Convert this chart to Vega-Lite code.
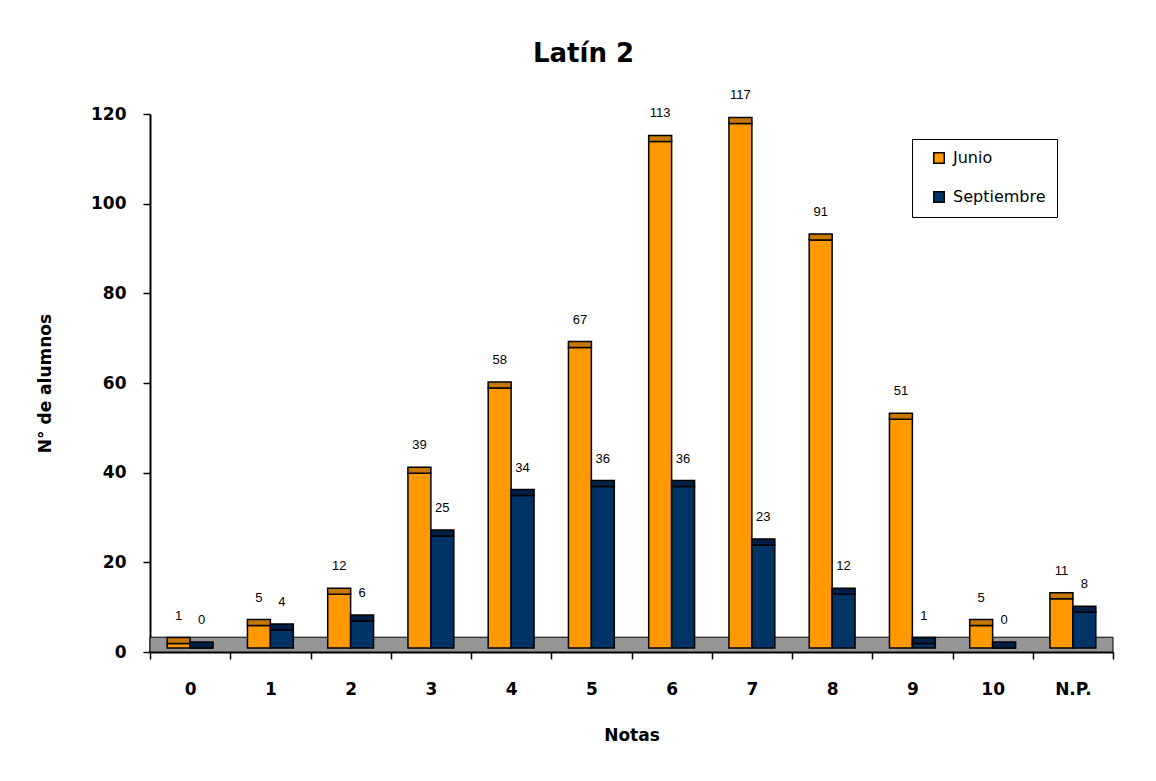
{
  "$schema": "https://vega.github.io/schema/vega-lite/v6.json",
  "width": 963,
  "height": 538,
  "autosize": {"type": "none"},
  "padding": {"left": 150, "top": 114, "right": 43, "bottom": 129},
  "background": "white",
  "title": {"text": "Latín 2", "font": "DejaVu Sans", "fontSize": 26, "fontWeight": "bold", "color": "black", "anchor": "middle", "frame": "group", "offset": 1, "dx": -48, "baseline": "alphabetic"},
  "data": {"values": [
    {"Nota": "0", "Serie": "Junio", "Alumnos": 1},
    {"Nota": "0", "Serie": "Septiembre", "Alumnos": 0},
    {"Nota": "1", "Serie": "Junio", "Alumnos": 5},
    {"Nota": "1", "Serie": "Septiembre", "Alumnos": 4},
    {"Nota": "2", "Serie": "Junio", "Alumnos": 12},
    {"Nota": "2", "Serie": "Septiembre", "Alumnos": 6},
    {"Nota": "3", "Serie": "Junio", "Alumnos": 39},
    {"Nota": "3", "Serie": "Septiembre", "Alumnos": 25},
    {"Nota": "4", "Serie": "Junio", "Alumnos": 58},
    {"Nota": "4", "Serie": "Septiembre", "Alumnos": 34},
    {"Nota": "5", "Serie": "Junio", "Alumnos": 67},
    {"Nota": "5", "Serie": "Septiembre", "Alumnos": 36},
    {"Nota": "6", "Serie": "Junio", "Alumnos": 113},
    {"Nota": "6", "Serie": "Septiembre", "Alumnos": 36},
    {"Nota": "7", "Serie": "Junio", "Alumnos": 117},
    {"Nota": "7", "Serie": "Septiembre", "Alumnos": 23},
    {"Nota": "8", "Serie": "Junio", "Alumnos": 91},
    {"Nota": "8", "Serie": "Septiembre", "Alumnos": 12},
    {"Nota": "9", "Serie": "Junio", "Alumnos": 51},
    {"Nota": "9", "Serie": "Septiembre", "Alumnos": 1},
    {"Nota": "10", "Serie": "Junio", "Alumnos": 5},
    {"Nota": "10", "Serie": "Septiembre", "Alumnos": 0},
    {"Nota": "N.P.", "Serie": "Junio", "Alumnos": 11},
    {"Nota": "N.P.", "Serie": "Septiembre", "Alumnos": 8}
  ]},
  "layer": [
    {
      "data": {"values": [{}]},
      "mark": {"type": "rect", "fill": "#969696", "stroke": "black", "strokeWidth": 1},
      "encoding": {
        "y": {"datum": 0, "type": "quantitative", "scale": {"domain": [0, 120], "nice": false}, "title": "N° de alumnos"},
        "y2": {"datum": 3.3}
      }
    },
    {
      "mark": {"type": "bar", "stroke": "black", "strokeWidth": 1.5, "yOffset": -4},
      "encoding": {
        "x": {"field": "Nota", "type": "nominal", "sort": ["0","1","2","3","4","5","6","7","8","9","10","N.P."], "scale": {"paddingInner": 0, "paddingOuter": 0}, "title": "Notas", "axis": {"labelAngle": 0, "tickBand": "extent"}},
        "xOffset": {"field": "Serie", "type": "nominal", "sort": ["Junio", "Septiembre"], "scale": {"paddingInner": 0, "paddingOuter": 0.75}},
        "y": {"field": "Alumnos", "type": "quantitative", "scale": {"domain": [0, 120], "nice": false}, "title": "N° de alumnos", "axis": {"values": [0, 20, 40, 60, 80, 100, 120]}},
        "color": {"field": "Serie", "type": "nominal", "sort": ["Junio", "Septiembre"], "scale": {"domain": ["Junio", "Septiembre"], "range": ["#FF9900", "#003366"]},
          "legend": {"orient": "none", "legendX": 762, "legendY": 25, "title": null, "strokeColor": "black", "fillColor": "white", "padding": 11, "labelFont": "DejaVu Sans", "labelFontSize": 16, "labelColor": "black", "symbolType": "square", "symbolSize": 110, "symbolStrokeColor": "black", "symbolStrokeWidth": 1.5, "symbolOpacity": 1, "rowPadding": 21, "labelOffset": 6, "symbolOffset": 8}}
      }
    },
    {
      "mark": {"type": "tick", "thickness": 6, "size": 23, "yOffset": -7, "stroke": "black", "strokeWidth": 1.5, "opacity": 1},
      "encoding": {
        "x": {"field": "Nota", "type": "nominal", "sort": ["0","1","2","3","4","5","6","7","8","9","10","N.P."], "title": "Notas"},
        "xOffset": {"field": "Serie", "type": "nominal", "sort": ["Junio", "Septiembre"]},
        "y": {"field": "Alumnos", "type": "quantitative", "title": "N° de alumnos"},
        "color": {"field": "Serie", "type": "nominal", "scale": {"domain": ["Junio", "Septiembre"], "range": ["#C87800", "#001F47"]}, "legend": null}
      }
    },
    {
      "mark": {"type": "text", "dy": -32, "font": "Liberation Sans", "fontSize": 13, "color": "black"},
      "encoding": {
        "x": {"field": "Nota", "type": "nominal", "sort": ["0","1","2","3","4","5","6","7","8","9","10","N.P."], "title": "Notas"},
        "xOffset": {"field": "Serie", "type": "nominal", "sort": ["Junio", "Septiembre"]},
        "y": {"field": "Alumnos", "type": "quantitative", "title": "N° de alumnos"},
        "text": {"field": "Alumnos", "type": "quantitative"}
      }
    }
  ],
  "resolve": {"scale": {"color": "independent"}},
  "config": {
    "view": {"stroke": null},
    "axis": {"domainColor": "black", "domainWidth": 2, "tickColor": "black", "tickWidth": 1.5, "tickSize": 7, "labelFont": "DejaVu Sans", "labelFontSize": 17, "labelFontWeight": "bold", "labelColor": "black", "titleFont": "DejaVu Sans", "titleFontSize": 17, "titleFontWeight": "bold", "titleColor": "black", "grid": false},
    "axisY": {"labelPadding": 17, "titlePadding": 36},
    "axisX": {"labelPadding": 22, "titlePadding": 30}
  }
}
